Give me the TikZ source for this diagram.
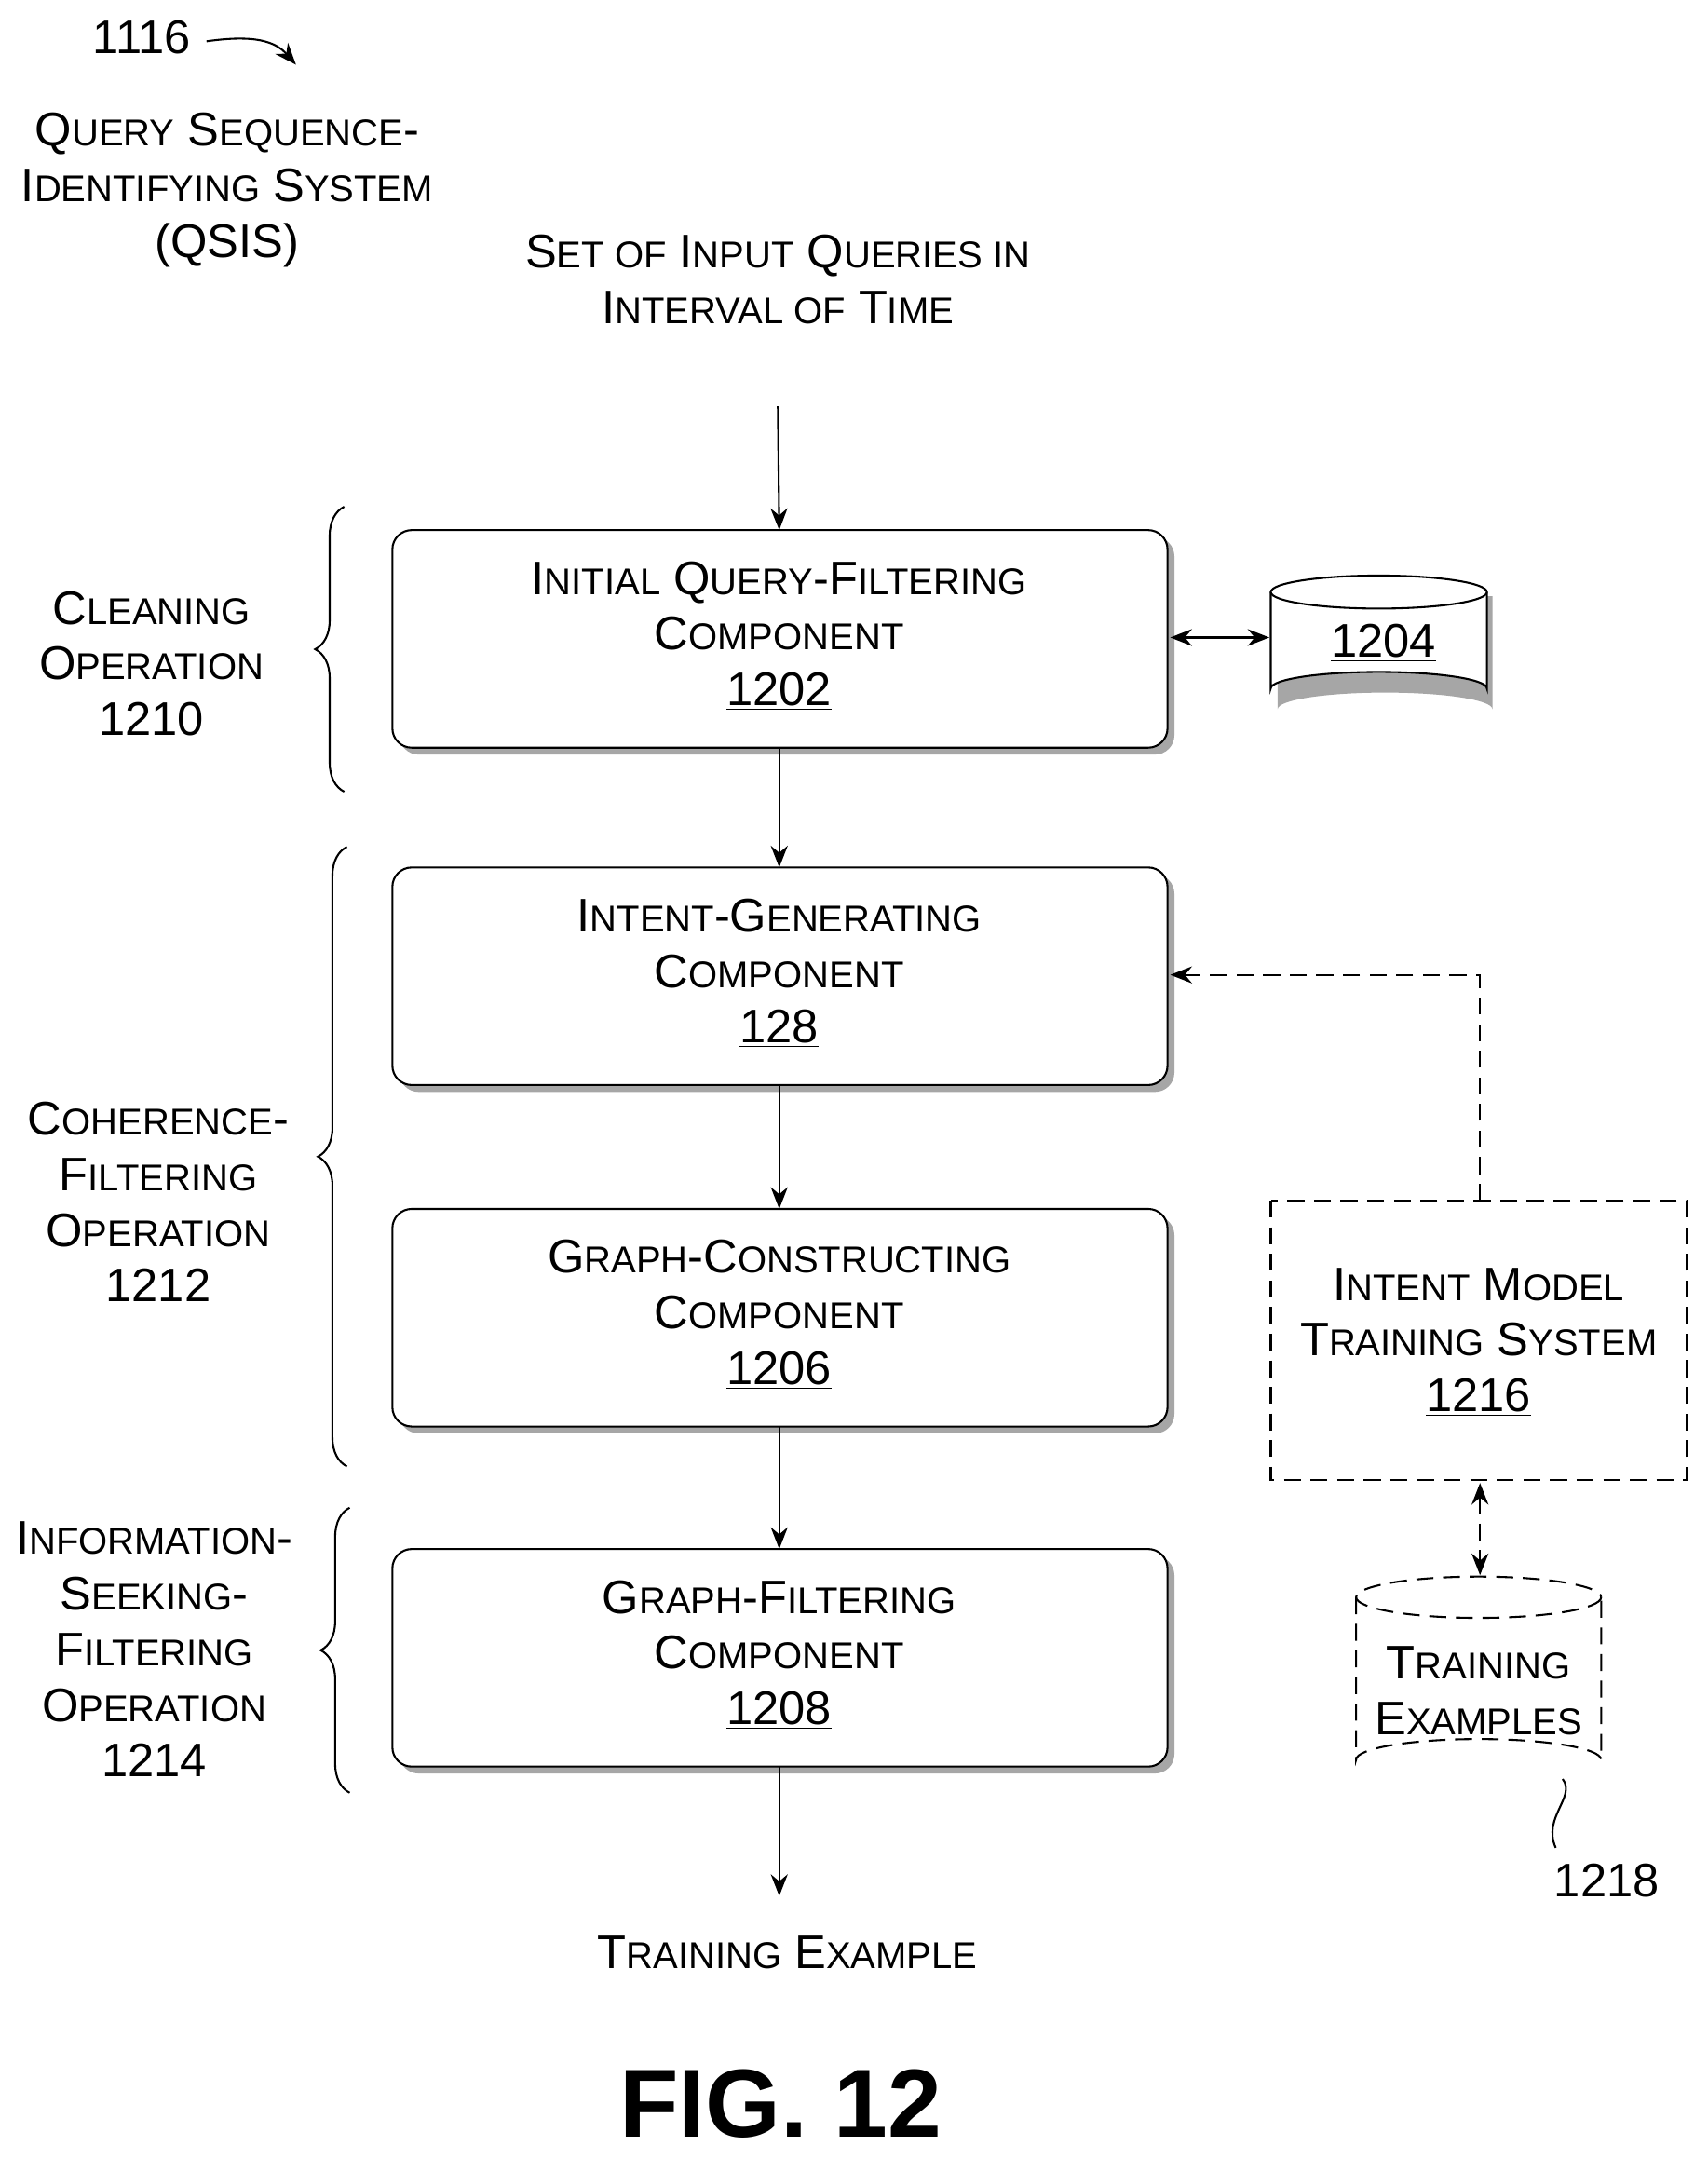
\documentclass[tikz,border=0pt]{standalone}
\usepackage{fontspec}
\setmainfont{Liberation Sans}
\usetikzlibrary{arrows.meta,decorations.pathreplacing}
\newcommand\fsc[1]{{\fontsize{15.4}{18}\selectfont #1}}
\begin{document}
\begin{tikzpicture}[x=0.02cm,y=-0.02cm,
  txt/.style={align=center,font=\fontsize{19.5}{23}\selectfont},
  box/.style={draw,thick,rounded corners=8,fill=white},
  shad/.style={fill=gray!70,rounded corners=8},
  arr/.style={-{Stealth[length=9,width=7]},thick},
  darr/.style={{Stealth[length=9,width=7]}-{Stealth[length=9,width=7]},thick},
  dsh/.style={dash pattern=on 7pt off 4pt},
  br/.style={decorate,decoration={brace,amplitude=12pt,mirror},thick}]
\useasboundingbox (0,0) rectangle (1240,1568);
% title
\node[txt] (n1116) at (103,27) {1116};
\draw[-{Stealth[length=9,width=7]},thick] (150,30) .. controls (185,25) and (200,30) .. (215,47);
\node[txt] (qsis) at (165,138) {Q\fsc{UERY} S\fsc{EQUENCE}-\\I\fsc{DENTIFYING} S\fsc{YSTEM}\\(QSIS)};
\node[txt] (in) at (565,203) {S\fsc{ET OF} I\fsc{NPUT} Q\fsc{UERIES IN}\\I\fsc{NTERVAL OF} T\fsc{IME}};
\coordinate (inA) at (565,295);
% boxes
\foreach \n/\y/\t in {b1202/385/{I\fsc{NITIAL} Q\fsc{UERY}-F\fsc{ILTERING}\\C\fsc{OMPONENT}\\\underline{1202}},
  b128/630/{I\fsc{NTENT}-G\fsc{ENERATING}\\C\fsc{OMPONENT}\\\underline{128}},
  b1206/878/{G\fsc{RAPH}-C\fsc{ONSTRUCTING}\\C\fsc{OMPONENT}\\\underline{1206}},
  b1208/1125/{G\fsc{RAPH}-F\fsc{ILTERING}\\C\fsc{OMPONENT}\\\underline{1208}}}{
  \fill[shad] (290,\y+5) rectangle (853,\y+163);
  \draw[box] (285,\y) rectangle (848,\y+158);
  \node[txt] (\n) at (566,\y+77) {\t};
  \coordinate (\n T) at (566,\y);
  \coordinate (\n B) at (566,\y+158);
}
% database 1204
\fill[gray!70] (928,433) -- (928,515) arc[start angle=180,end angle=360,x radius=78,y radius=12] -- (1084,433) -- cycle;
\draw[thick,fill=white] (923,430) -- (923,500) arc[start angle=180,end angle=360,x radius=78.5,y radius=12] -- (1080,430);
\draw[thick,fill=white] (1001.5,430) ellipse[x radius=78.5,y radius=12];
\node[txt] (d1204) at (1005,467) {\underline{1204}};
\coordinate (d1204L) at (922,463);
\coordinate (b1202R) at (850,463);
\draw[darr] (b1202R) -- (d1204L);
% arrows
\draw[arr] (inA) -- (b1202T);
\draw[arr] (b1202B) -- (b128T);
\draw[arr] (b128B) -- (b1206T);
\draw[arr] (b1206B) -- (b1208T);
\coordinate (outA) at (566,1377);
\draw[arr] (b1208B) -- (outA);
\node[txt] (out) at (572,1418) {T\fsc{RAINING} E\fsc{XAMPLE}};
% dashed 1216
\draw[thick,dsh] (923,872) rectangle (1225,1075);
\node[txt] (s1216) at (1074,975) {I\fsc{NTENT} M\fsc{ODEL}\\T\fsc{RAINING} S\fsc{YSTEM}\\\underline{1216}};
\coordinate (sT) at (1075,872);
\coordinate (b128R) at (850,708);
\draw[arr,dsh] (sT) -- (1075,708) -- (b128R);
% training examples cylinder
\draw[thick,dsh] (985,1160) -- (985,1278) arc[start angle=180,end angle=360,x radius=89,y radius=15] -- (1163,1160);
\draw[thick,dsh] (1074,1160) ellipse[x radius=89,y radius=15];
\node[txt] (te) at (1074,1228) {T\fsc{RAINING}\\E\fsc{XAMPLES}};
\coordinate (sB) at (1075,1077);
\coordinate (teT) at (1075,1144);
\draw[darr,dsh] (sB) -- (teT);
\draw[thick] (1135,1292) .. controls (1145,1305) and (1120,1320) .. (1130,1342);
\node[txt] (n1218) at (1167,1366) {1218};
% braces
\draw[br] (250,368) -- (250,575);
\draw[br] (252,615) -- (252,1065);
\draw[br] (254,1095) -- (254,1302);
\node[txt] (l1210) at (110,482) {C\fsc{LEANING}\\O\fsc{PERATION}\\1210};
\node[txt] (l1212) at (115,873) {C\fsc{OHERENCE}-\\F\fsc{ILTERING}\\O\fsc{PERATION}\\1212};
\node[txt] (l1214) at (112,1198) {I\fsc{NFORMATION}-\\S\fsc{EEKING}-\\F\fsc{ILTERING}\\O\fsc{PERATION}\\1214};
\node[font=\bfseries\fontsize{40}{44}\selectfont] (fig) at (567,1528) {FIG. 12};
\end{tikzpicture}
\end{document}
